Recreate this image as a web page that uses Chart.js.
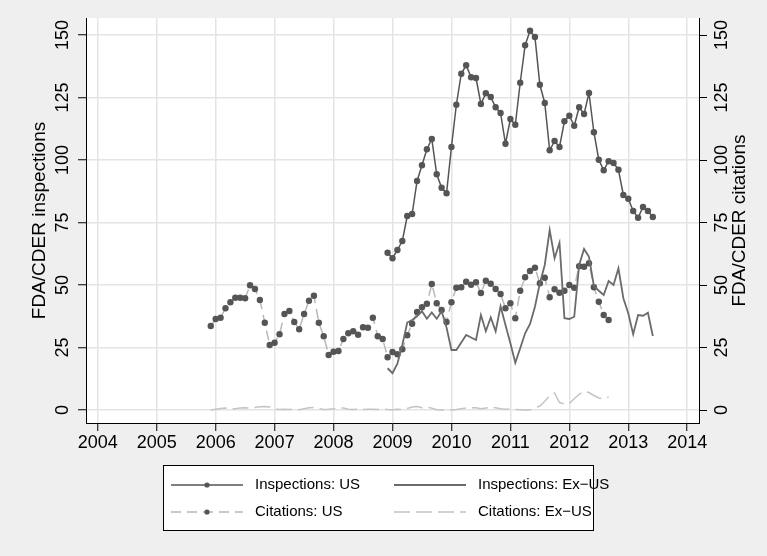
<!DOCTYPE html>
<html>
<head>
<meta charset="utf-8">
<script src="https://cdn.jsdelivr.net/npm/chart.js"></script>
<style>
  html, body { margin: 0; padding: 0; background: #efefef; }
  canvas { display: block; }
</style>
</head>
<body>
<canvas id="lineChart" width="767" height="556"></canvas>
<script>
// monthly series; first month of each is given as [year, month]
const inspUSStart = [2008, 12];
const inspUS = [62.9,
  60.7, 64, 67.6, 77.6, 78.4, 91.6, 97.9, 104.3, 108.4, 94.3, 88.9, 86.7,
  105.2, 122.1, 134.5, 137.9, 133.1, 132.8, 122.4, 126.7, 125.2, 121.1, 118.8, 106.5,
  116.4, 114.1, 130.9, 145.9, 151.7, 149.2, 130.1, 122.8, 103.9, 107.6, 105.2, 115.5,
  117.7, 113.7, 121.1, 118.4, 126.8, 111.1, 100.1, 95.9, 99.5, 98.8, 96.1, 86,
  84.5, 79.6, 76.9, 81.2, 79.6, 77.2];

const inspExStart = [2008, 12];
const inspEx = [16.7,
  14.7, 18.5, 26, 35, 36, 37.5, 39.5, 36.5, 39, 36.5, 39.5, 33,
  24, 24, 27, 30, 29, 28, 38, 31.5, 37, 31.5, 41.5, 34,
  26.7, 18.9, 24.7, 30.7, 34.4, 41.3, 50.7, 58, 72, 60.7, 66.9, 36.7,
  36.4, 37.3, 58, 64.4, 61.3, 49.6, 47.7, 46, 51.6, 50, 56.7, 44.7,
  38.7, 30.3, 38, 37.7, 38.9, 29.6];

const citUSStart = [2005, 12];
const citUS = [33.6,
  36.4, 36.9, 40.7, 43.1, 44.9, 44.9, 44.7, 49.9, 48.4, 44, 34.9, 26,
  26.9, 30.3, 38.4, 39.6, 35.2, 32.3, 38.4, 43.7, 45.7, 34.9, 29.5, 22,
  23.3, 23.6, 28.4, 30.7, 31.5, 30.1, 33.1, 32.9, 36.9, 29.5, 28.4, 21.1,
  23.2, 22.3, 24.3, 29.9, 34.5, 39.2, 41.1, 42.5, 50.4, 42.7, 40, 35.2,
  43.1, 48.9, 49.1, 51.3, 50.1, 51.1, 46.8, 51.7, 50.5, 48.4, 46.4, 40.7,
  42.7, 36.7, 47.7, 53.1, 55.6, 56.9, 50.7, 52.9, 45.1, 48.3, 46.9, 47.7,
  50, 48.9, 57.5, 57.3, 58.7, 49.1, 43.3, 38, 36];

const citExStart = [2005, 12];
const citEx = [0,
  0.3, 0.6, 0.8, 0.5, 0.5, 0.8, 0.9, 0.8, 1.0, 1.3, 1.4, 1.2,
  0.3, 0.2, 0.3, 0.2, 0.3, 0.1, 0.5, 0.9, 1.0, 0.6, 0.2, 0.3,
  0.5, 0.9, 0.8, 0.3, 0.2, 0.3, 0.2, 0.3, 0.3, 0.2, 0.4, 0.2,
  0.1, 0.3, 0.2, 0.6, 1.2, 1.4, 0.9, 1.2, 0.7, 0.1, 0, 0,
  0, 0.2, 0.5, 0.8, 0.9, 0.9, 0.5, 0.8, 1.1, 0.9, 0.5, 0.3,
  0.3, 0.2, 0.1, 0, 0, 0.9, 1.6, 3.5, 5.8, 6.8, 3, 2.4,
  2.6, 4.5, 6.3, 7.5, 7, 5.8, 4.8, 4.5, 5.2];

const yearTicks = [2004, 2005, 2006, 2007, 2008, 2009, 2010, 2011, 2012, 2013, 2014];
const countTicks = [0, 25, 50, 75, 100, 125, 150];

// month index -> decimal year (Stata %tm style)
function toPoints(start, values) {
  return values.map((v, i) => ({ x: start[0] + (start[1] - 1 + i) / 12, y: v }));
}

const FONT = "'Liberation Sans', Arial, sans-serif";
Chart.defaults.font.family = FONT;
Chart.defaults.color = "#000";

// grey graph region, white plot region
const backdrop = {
  id: "backdrop",
  beforeDraw(chart) {
    const { ctx, chartArea: a } = chart;
    ctx.save();
    ctx.fillStyle = "#efefef";
    ctx.fillRect(0, 0, chart.width, chart.height);
    ctx.fillStyle = "#ffffff";
    ctx.fillRect(a.left, a.top, a.right - a.left, a.bottom - a.top);
    ctx.restore();
  },
};

// right axis title reads bottom-to-top like the left one
const rightTitle = {
  id: "rightTitle",
  afterDraw(chart) {
    const { ctx, chartArea: a } = chart;
    ctx.save();
    ctx.translate(740, (a.top + a.bottom) / 2);
    ctx.rotate(-Math.PI / 2);
    ctx.font = "19px " + FONT;
    ctx.fillStyle = "#000";
    ctx.textAlign = "center";
    ctx.textBaseline = "middle";
    ctx.fillText("FDA/CDER citations", 0, 0);
    ctx.restore();
  },
};

// boxed two-column legend below the plot
const legendBox = {
  id: "legendBox",
  afterDraw(chart) {
    const ctx = chart.ctx;
    const ds = chart.data.datasets;
    ctx.save();
    ctx.fillStyle = "#fff";
    ctx.fillRect(163, 465, 430, 65);
    ctx.strokeStyle = "#000";
    ctx.lineWidth = 1;
    ctx.strokeRect(163.5, 465.5, 430, 65);

    const cols = [171, 394];
    const rows = [485, 512];
    ds.forEach((d, i) => {
      const x0 = cols[i % 2];
      const y = rows[Math.floor(i / 2)];
      ctx.strokeStyle = d.borderColor;
      ctx.lineWidth = d.borderWidth;
      ctx.setLineDash(d.borderDash || []);
      ctx.beginPath();
      ctx.moveTo(x0, y);
      ctx.lineTo(x0 + 72, y);
      ctx.stroke();
      ctx.setLineDash([]);
      if (d.pointRadius > 0) {
        ctx.fillStyle = d.pointBackgroundColor;
        ctx.beginPath();
        ctx.arc(x0 + 36, y, 2.6, 0, Math.PI * 2);
        ctx.fill();
      }
      ctx.fillStyle = "#000";
      ctx.font = "15px " + FONT;
      ctx.textAlign = "left";
      ctx.textBaseline = "middle";
      ctx.fillText(d.label, x0 + 84, y);
    });
    ctx.restore();
  },
};

function lineChart() {
  const ctx = document.getElementById("lineChart");
  if (!ctx) return;

  const myChart = new Chart(ctx, {
    type: "line",
    data: {
      datasets: [
        {
          label: "Inspections: US",
          data: toPoints(inspUSStart, inspUS),
          yAxisID: "y",
          borderColor: "#555555",
          borderWidth: 1.5,
          pointRadius: 3.2,
          pointBorderWidth: 0,
          pointBackgroundColor: "#555555",
        },
        {
          label: "Inspections: Ex\u2212US",
          data: toPoints(inspExStart, inspEx),
          yAxisID: "y",
          borderColor: "#6b6b6b",
          borderWidth: 1.8,
          pointRadius: 0,
        },
        {
          label: "Citations: US",
          data: toPoints(citUSStart, citUS),
          yAxisID: "y2",
          borderColor: "#b8b8b8",
          borderWidth: 1.5,
          borderDash: [10, 6],
          pointRadius: 3.2,
          pointBorderWidth: 0,
          pointBackgroundColor: "#555555",
        },
        {
          label: "Citations: Ex\u2212US",
          data: toPoints(citExStart, citEx),
          yAxisID: "y2",
          borderColor: "#c4c4c4",
          borderWidth: 1.5,
          borderDash: [16, 6],
          pointRadius: 0,
        },
      ],
    },
    options: {
      responsive: false,
      animation: false,
      layout: { padding: { top: 18, left: 0, right: 0, bottom: 93 } },
      plugins: {
        legend: { display: false },
        tooltip: { enabled: false },
      },
      scales: {
        x: {
          type: "linear",
          min: 2003.8,
          max: 2014.2,
          afterBuildTicks: (s) => { s.ticks = yearTicks.map((v) => ({ value: v })); },
          afterFit: (s) => { s.height = 40; },
          ticks: {
            font: { size: 18 },
            padding: 1,
            autoSkip: false,
            maxRotation: 0,
            callback: (v) => String(v),
          },
          grid: { color: "#e4e4e4", lineWidth: 1.5, tickColor: "#000", tickWidth: 1, tickLength: 8 },
          border: { display: true, color: "#000", width: 1 },
        },
        y: {
          position: "left",
          min: -5.2,
          max: 156.8,
          afterBuildTicks: (s) => { s.ticks = countTicks.map((v) => ({ value: v })); },
          afterFit: (s) => { s.width = 86; },
          ticks: {
            font: { size: 18 },
            minRotation: 90,
            maxRotation: 90,
            crossAlign: "center",
            padding: 0,
            autoSkip: false,
          },
          grid: { color: "#e4e4e4", lineWidth: 1.5, tickColor: "#000", tickWidth: 1, tickLength: 8 },
          border: { display: true, color: "#000", width: 1 },
          title: {
            display: true,
            text: "FDA/CDER inspections",
            font: { size: 19 },
            padding: { top: 28.6, bottom: 0 },
          },
        },
        y2: {
          position: "right",
          min: -5.2,
          max: 156.8,
          afterBuildTicks: (s) => { s.ticks = countTicks.map((v) => ({ value: v })); },
          afterFit: (s) => { s.width = 68; },
          ticks: {
            font: { size: 18 },
            minRotation: 90,
            maxRotation: 90,
            crossAlign: "center",
            padding: 0,
            autoSkip: false,
          },
          grid: { drawOnChartArea: false, tickColor: "#000", tickWidth: 1, tickLength: 8 },
          border: { display: true, color: "#000", width: 1 },
        },
      },
    },
    plugins: [backdrop, rightTitle, legendBox],
  });
}

lineChart();
</script>
</body>
</html>
